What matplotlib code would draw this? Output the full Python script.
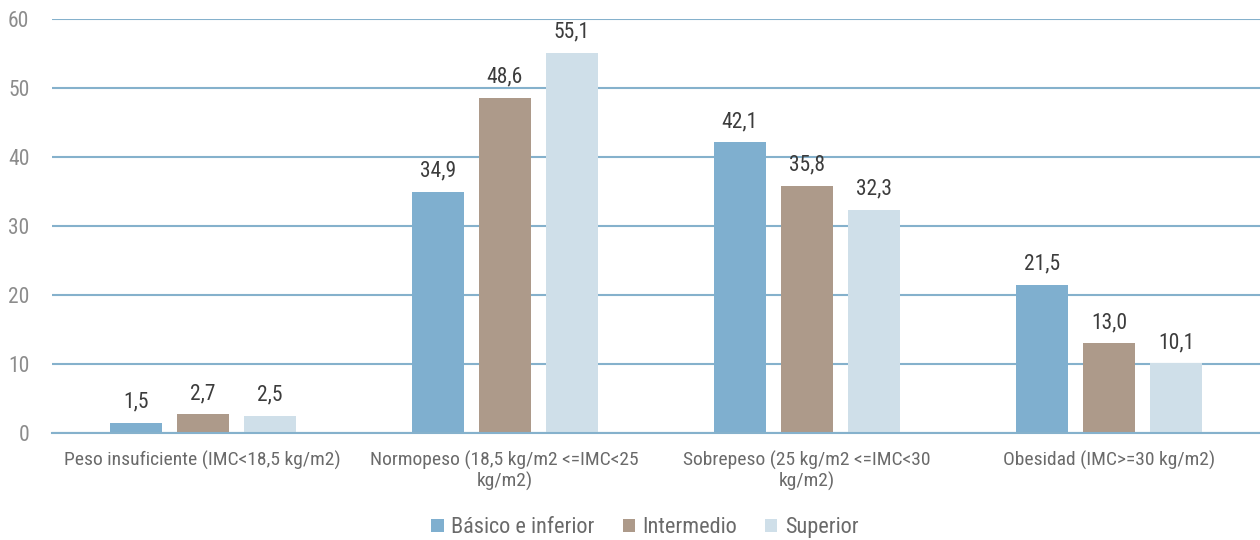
import matplotlib.pyplot as plt
import matplotlib as mpl
import numpy as np
from matplotlib import font_manager

categories = ['Peso insuficiente (IMC<18,5 kg/m2)',
              'Normopeso (18,5 kg/m2 <=IMC<25\nkg/m2)',
              'Sobrepeso (25 kg/m2 <=IMC<30\nkg/m2)',
              'Obesidad (IMC>=30 kg/m2)']
series_names = ['Básico e inferior', 'Intermedio', 'Superior']
basico = [1.5, 34.9, 42.1, 21.5]
intermedio = [2.7, 48.6, 35.8, 13.0]
superior = [2.5, 55.1, 32.3, 10.1]
yticks = [0, 10, 20, 30, 40, 50, 60]

colors = ['#7fafcf', '#ad9a8a', '#cfdfe9']
grid_col = '#85b1cc'

# condensed font, like the original
names = {f.name for f in font_manager.fontManager.ttflist}
fam = 'Liberation Sans'
for cand in ['Roboto Condensed', 'Archivo Narrow', 'PT Sans Narrow', 'Liberation Sans Narrow']:
    if cand in names:
        fam = cand
        break
mpl.rcParams['font.family'] = [fam, 'DejaVu Sans']

fig = plt.figure(figsize=(12.6, 5.4), dpi=100)
ax = fig.add_axes((0.041, 0.198, 0.959, 0.767))

x = np.arange(len(categories))
w = 0.172
off = 0.222
for i, (vals, c) in enumerate(zip([basico, intermedio, superior], colors)):
    xs = x + (i - 1) * off
    ax.bar(xs, vals, width=w, color=c, zorder=3, label=series_names[i])
    for xv, v in zip(xs, vals):
        ax.text(xv, v + 1.5, f'{v:.1f}'.replace('.', ','), ha='center', va='bottom',
                fontsize=15.5, color='#3c3c3c', zorder=4)

ax.set_xlim(-0.5, 3.5)
ax.set_ylim(0, 60)
ax.set_yticks(yticks)
ax.set_yticklabels([str(t) for t in yticks], fontsize=15.5, color='#8c8c8c')
ax.set_xticks(x)
ax.set_xticklabels(categories, fontsize=14, color='#6a6a6a', linespacing=1.1)
ax.tick_params(axis='x', length=0, pad=13)
ax.tick_params(axis='y', length=0, pad=16)
ax.grid(axis='y', color=grid_col, linewidth=1.5, zorder=0)
for s in ['top', 'right', 'left']:
    ax.spines[s].set_visible(False)
ax.spines['bottom'].set_color(grid_col)
ax.spines['bottom'].set_linewidth(1.5)
ax.spines['bottom'].set_zorder(3.5)

leg = fig.legend(loc='lower center', bbox_to_anchor=(0.512, -0.034), ncol=3, frameon=False,
                 fontsize=16, handlelength=0.55, handleheight=0.55, handletextpad=0.35,
                 columnspacing=1.25)
for t in leg.get_texts():
    t.set_color('#6a6a6a')

fig.savefig('out.png', dpi=100)
